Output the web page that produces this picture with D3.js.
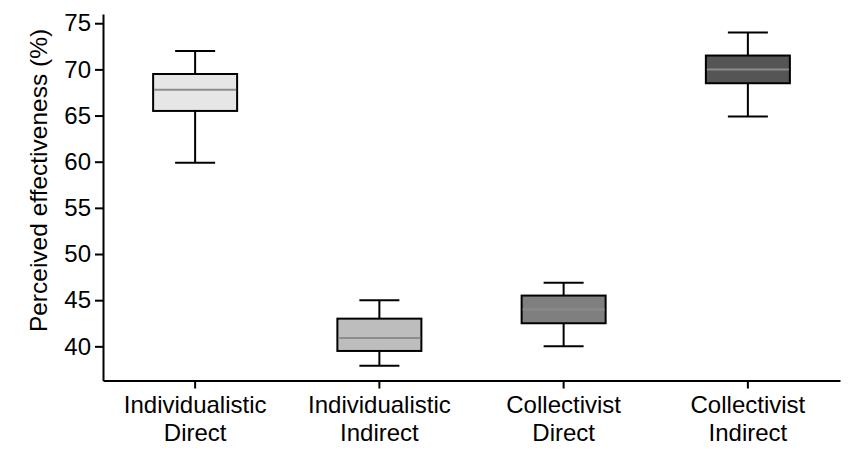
<!DOCTYPE html>
<html><head><meta charset="utf-8">
<script src="https://cdn.jsdelivr.net/npm/d3@7"></script>
<style>body{margin:0;background:#fff;} svg{display:block;font-family:"Liberation Sans",Arial,sans-serif;}</style>
</head><body>
<svg id="c" width="854" height="462"></svg>
<script>
const categories = [["Individualistic","Direct"],["Individualistic","Indirect"],["Collectivist","Direct"],["Collectivist","Indirect"]];
const whiskerLow  = [59.9, 37.9, 40.0, 64.9];
const q1          = [65.5, 39.5, 42.5, 68.5];
const median      = [67.8, 40.9, 44.0, 70.0];
const q3          = [69.5, 43.0, 45.5, 71.5];
const whiskerHigh = [72.0, 45.0, 46.9, 74.0];
const fills = ["#e6e6e6","#bdbdbd","#7f7f7f","#555555"];
const yTicks = [40,45,50,55,60,65,70,75];

(function(){
const svg = d3.select("#c");
const mLeft = 103, mRight = 840, mTop = 14, mBottom = 380.5;
const fs = 24;
const keys = categories.map((c,i)=>i);
const x = d3.scaleBand().domain(keys).range([mLeft,mRight]).padding(0);
const y = d3.scaleLinear().domain([36.3,76]).range([mBottom,mTop]);

const g = svg.append("g");
const boxW = 84, capW = 40;
keys.forEach(i=>{
  const cx = x(i)+x.bandwidth()/2;
  const b = g.append("g");
  b.append("line").attr("x1",cx).attr("x2",cx).attr("y1",y(whiskerHigh[i])).attr("y2",y(q3[i])).attr("stroke","#000").attr("stroke-width",2);
  b.append("line").attr("x1",cx).attr("x2",cx).attr("y1",y(q1[i])).attr("y2",y(whiskerLow[i])).attr("stroke","#000").attr("stroke-width",2);
  b.append("line").attr("x1",cx-capW/2).attr("x2",cx+capW/2).attr("y1",y(whiskerHigh[i])).attr("y2",y(whiskerHigh[i])).attr("stroke","#000").attr("stroke-width",2);
  b.append("line").attr("x1",cx-capW/2).attr("x2",cx+capW/2).attr("y1",y(whiskerLow[i])).attr("y2",y(whiskerLow[i])).attr("stroke","#000").attr("stroke-width",2);
  b.append("rect").attr("x",cx-boxW/2).attr("width",boxW).attr("y",y(q3[i])).attr("height",y(q1[i])-y(q3[i])).attr("fill",fills[i]).attr("stroke","#000").attr("stroke-width",2);
  b.append("line").attr("x1",cx-boxW/2+1).attr("x2",cx+boxW/2-1).attr("y1",y(median[i])).attr("y2",y(median[i])).attr("stroke","#8c8c8c").attr("stroke-width",2);
});

const ya = svg.append("g").attr("transform",`translate(${mLeft},0)`)
  .call(d3.axisLeft(y).tickValues(yTicks).tickSize(8).tickPadding(4).tickSizeOuter(0));
ya.select(".domain").attr("stroke","#000").attr("stroke-width",2);
ya.selectAll(".tick line").attr("stroke","#000").attr("stroke-width",2);
ya.selectAll(".tick text").attr("font-size",fs).attr("font-family","Liberation Sans, Arial, sans-serif").attr("fill","#000");

const xa = svg.append("g").attr("transform",`translate(0,${mBottom})`)
  .call(d3.axisBottom(x).tickSize(8).tickSizeOuter(0).tickFormat(()=>""));
xa.select(".domain").attr("stroke","#000").attr("stroke-width",2);
xa.selectAll(".tick line").attr("stroke","#000").attr("stroke-width",2);
xa.selectAll(".tick").each(function(d){
  const t = d3.select(this).append("text").attr("fill","#000").attr("font-size",fs).attr("text-anchor","middle")
    .attr("font-family","Liberation Sans, Arial, sans-serif");
  t.append("tspan").attr("x",0).attr("y",32).text(categories[d][0]);
  t.append("tspan").attr("x",0).attr("y",60.5).text(categories[d][1]);
});

svg.append("text").attr("transform",`translate(47,180.5) rotate(-90)`).attr("text-anchor","middle")
  .attr("font-size",24.5).attr("fill","#000").text("Perceived effectiveness (%)");
})();
</script>
</body></html>
